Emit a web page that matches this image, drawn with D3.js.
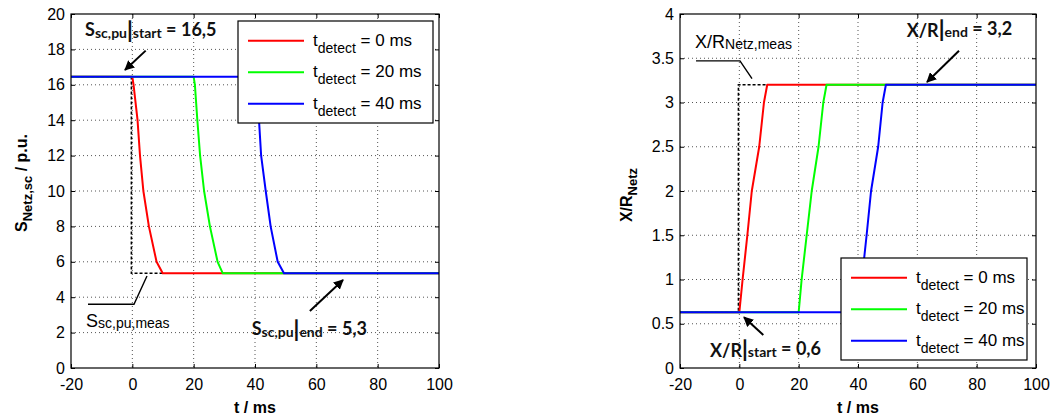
<!DOCTYPE html>
<html><head><meta charset="utf-8">
<script src="https://cdn.jsdelivr.net/npm/d3@7"></script>
<style>body{margin:0;background:#fff}svg{display:block}</style>
</head><body>
<svg id="c" width="1056" height="419"></svg>
<script>
// ---------- data ----------
const timeTicks = [-20, 0, 20, 40, 60, 80, 100];
const sTicks = [0, 2, 4, 6, 8, 10, 12, 14, 16, 18, 20];
const xrTicks = [0, 0.5, 1, 1.5, 2, 2.5, 3, 3.5, 4];
const seriesNames = ["t_detect = 0 ms", "t_detect = 20 ms", "t_detect = 40 ms"];
const legendValues = ["0 ms", "20 ms", "40 ms"];

// Left: short-circuit power (p.u.)
const sMeasT = [-20, -0.3, -0.3, 9.9];
const sMeasV = [16.45, 16.45, 5.35, 5.35];
const sRedT = [-20, 0, 0.4, 1.7, 2.5, 3.6, 5.4, 7.9, 9.9, 100];
const sRedV = [16.45, 16.45, 16, 14, 12, 10, 8, 6, 5.35, 5.35];
const sGreenT = [-20, 20, 20.4, 21.2, 22.1, 23.4, 25.3, 27.8, 29.5, 100];
const sGreenV = [16.45, 16.45, 16, 14, 12, 10, 8, 6, 5.35, 5.35];
const sBlueT = [-20, 40, 40.4, 41.3, 42.0, 43.5, 45.1, 47.4, 49.45, 100];
const sBlueV = [16.45, 16.45, 16, 14, 12, 10, 8, 6, 5.35, 5.35];

// Right: X/R ratio
const xrMeasT = [-20, -0.3, -0.3, 9.4];
const xrMeasV = [0.63, 0.63, 3.2, 3.2];
const xrRedT = [-20, 0, 1.1, 2.7, 4.2, 6.7, 8.3, 9.4, 100];
const xrRedV = [0.63, 0.63, 1, 1.5, 2, 2.5, 3, 3.2, 3.2];
const xrGreenT = [-20, 20, 21.0, 22.7, 24.4, 26.7, 28.3, 29.4, 100];
const xrGreenV = [0.63, 0.63, 1, 1.5, 2, 2.5, 3, 3.2, 3.2];
const xrBlueT = [-20, 40, 41.3, 42.9, 44.4, 46.8, 48.3, 49.4, 100];
const xrBlueV = [0.63, 0.63, 1, 1.5, 2, 2.5, 3, 3.2, 3.2];

const colors = ["#ff0000", "#00ff00", "#0000ff"];

// ---------- drawing ----------
const svg = d3.select("#c");
const FONT = "'Liberation Sans', Arial, Helvetica, sans-serif";
const AFONT = "Lato, 'Open Sans', sans-serif";

svg.append("defs").append("marker")
  .attr("id", "ah").attr("viewBox", "0 0 10 10").attr("refX", 9).attr("refY", 5)
  .attr("markerWidth", 5).attr("markerHeight", 5).attr("markerUnits", "strokeWidth")
  .attr("orient", "auto")
  .append("path").attr("d", "M0,0 L10,5 L0,10 Z").attr("fill", "#000");

function zip(t, v) { return t.map((d, i) => [d, v[i]]); }

function panel(cfg) {
  const x = d3.scaleLinear().domain([-20, 100]).range([cfg.x0, cfg.x1]);
  const y = d3.scaleLinear().domain(cfg.yDomain).range([cfg.y1, cfg.y0]);
  const g = svg.append("g");

  // grid
  g.selectAll(".gx").data(timeTicks.slice(1, -1)).join("line")
    .attr("x1", d => x(d)).attr("x2", d => x(d)).attr("y1", cfg.y0).attr("y2", cfg.y1)
    .attr("stroke", "#555").attr("stroke-width", 1).attr("stroke-dasharray", "1,3");
  g.selectAll(".gy").data(cfg.yTicks.slice(1, -1)).join("line")
    .attr("y1", d => y(d)).attr("y2", d => y(d)).attr("x1", cfg.x0).attr("x2", cfg.x1)
    .attr("stroke", "#555").attr("stroke-width", 1).attr("stroke-dasharray", "1,3");

  const line = d3.line().x(d => x(d[0])).y(d => y(d[1]));
  g.append("path").datum(zip(cfg.meas[0], cfg.meas[1])).attr("d", line)
    .attr("fill", "none").attr("stroke", "#000").attr("stroke-width", 1.6)
    .attr("stroke-dasharray", "3,2");
  cfg.series.forEach((s, i) => {
    g.append("path").datum(zip(s[0], s[1])).attr("d", line)
      .attr("fill", "none").attr("stroke", colors[i]).attr("stroke-width", 2)
      .attr("stroke-linejoin", "round");
  });

  const tl = 4;
  const axB = d3.axisBottom(x).tickValues(timeTicks).tickSizeInner(-tl).tickSizeOuter(0).tickPadding(8).tickFormat(d => String(d));
  const axT = d3.axisTop(x).tickValues(timeTicks).tickSizeInner(-tl).tickSizeOuter(0).tickFormat("");
  const axL = d3.axisLeft(y).tickValues(cfg.yTicks).tickSizeInner(-tl).tickSizeOuter(0).tickPadding(6).tickFormat(d => String(d));
  const axR = d3.axisRight(y).tickValues(cfg.yTicks).tickSizeInner(-tl).tickSizeOuter(0).tickFormat("");
  const gb = g.append("g").attr("transform", `translate(0,${cfg.y1})`).call(axB);
  g.append("g").attr("transform", `translate(0,${cfg.y0})`).call(axT);
  const gl = g.append("g").attr("transform", `translate(${cfg.x0},0)`).call(axL);
  g.append("g").attr("transform", `translate(${cfg.x1},0)`).call(axR);
  g.selectAll(".domain").remove();
  g.selectAll(".tick line").attr("stroke", "#000").attr("stroke-width", 1);
  gb.selectAll("text").attr("font-family", FONT).attr("font-size", 16).attr("fill", "#000").attr("dy", "0.9em");
  gl.selectAll("text").attr("font-family", FONT).attr("font-size", 16).attr("fill", "#000");
  g.append("rect").attr("x", cfg.x0).attr("y", cfg.y0).attr("width", cfg.x1 - cfg.x0)
    .attr("height", cfg.y1 - cfg.y0).attr("fill", "none").attr("stroke", "#000").attr("stroke-width", 1.2);

  g.append("text").attr("x", (cfg.x0 + cfg.x1) / 2).attr("y", 413).attr("text-anchor", "middle")
    .attr("font-family", FONT).attr("font-size", 16).attr("font-weight", "bold").text("t / ms");

  const L = cfg.legend;
  const lg = g.append("g");
  lg.append("rect").attr("x", L.x).attr("y", L.y).attr("width", L.w).attr("height", L.h)
    .attr("fill", "#fff").attr("stroke", "#000").attr("stroke-width", 1.2);
  legendValues.forEach((v, i) => {
    const ry = L.y + 19.7 + i * 31.5;
    lg.append("line").attr("x1", L.x + 10).attr("x2", L.x + 66).attr("y1", ry).attr("y2", ry)
      .attr("stroke", colors[i]).attr("stroke-width", 2);
    const t = lg.append("text").attr("x", L.x + 75).attr("y", ry + 5)
      .attr("font-family", FONT).attr("font-size", 17).attr("fill", "#000");
    t.append("tspan").text("t");
    t.append("tspan").attr("font-size", 14).attr("dy", 7).text("detect");
    t.append("tspan").attr("dy", -7).text(" = " + v);
  });
  return { x, y, g };
}

const P1 = panel({
  x0: 71, x1: 439, y0: 14, y1: 368, yDomain: [0, 20], yTicks: sTicks,
  meas: [sMeasT, sMeasV],
  series: [[sRedT, sRedV], [sGreenT, sGreenV], [sBlueT, sBlueV]],
  legend: { x: 238, y: 21, w: 195, h: 102 }
});
const P2 = panel({
  x0: 680, x1: 1036, y0: 14, y1: 368, yDomain: [0, 4], yTicks: xrTicks,
  meas: [xrMeasT, xrMeasV],
  series: [[xrRedT, xrRedV], [xrGreenT, xrGreenV], [xrBlueT, xrBlueV]],
  legend: { x: 841, y: 258, w: 186, h: 102 }
});

function ylab(xp, yp, main, sub, rest) {
  const t = svg.append("text").attr("transform", `translate(${xp},${yp}) rotate(-90)`)
    .attr("text-anchor", "middle").attr("font-family", FONT).attr("font-size", 16)
    .attr("font-weight", "bold");
  t.append("tspan").text(main);
  t.append("tspan").attr("font-size", 13).attr("dy", 5).text(sub);
  if (rest) t.append("tspan").attr("dy", -5).text(rest);
}
ylab(27, 183, "S", "Netz,sc", "  / p.u.");
ylab(632, 195, "X/R", "Netz", "");

function boldLabel(P, tx, vy, main, sub, rest) {
  const t = svg.append("text").attr("x", P.x(tx)).attr("y", P.y(vy))
    .attr("font-family", AFONT).attr("font-size", 18).attr("font-weight", "bold").attr("fill", "#111");
  t.append("tspan").text(main);
  t.append("tspan").attr("font-size", 14).attr("dy", 2).text(sub);
  t.append("tspan").attr("font-size", 22).attr("dy", 0).attr("font-weight", 900).text("|");
  t.append("tspan").attr("font-size", 14).text(rest[0]);
  t.append("tspan").attr("dy", -2).text(rest[1]);
}
function arrow(P, t0, v0, t1, v1) {
  svg.append("line").attr("x1", P.x(t0)).attr("y1", P.y(v0)).attr("x2", P.x(t1)).attr("y2", P.y(v1))
    .attr("stroke", "#000").attr("stroke-width", 2).attr("marker-end", "url(#ah)");
}
function measLabel(P, tx, vy, main, sub, pts) {
  const t = svg.append("text").attr("x", P.x(tx)).attr("y", P.y(vy))
    .attr("font-family", FONT).attr("font-size", 18).attr("fill", "#000");
  t.append("tspan").text(main);
  t.append("tspan").attr("font-size", 14).attr("dy", 1).text(sub);
  svg.append("path").datum(pts).attr("d", d3.line().x(d => P.x(d[0])).y(d => P.y(d[1])))
    .attr("fill", "none").attr("stroke", "#000").attr("stroke-width", 1.4);
}

boldLabel(P1, -15.4, 18.73, "S", "sc,pu", ["start", " = 16,5"]);
arrow(P1, 4.36, 17.93, -2.39, 16.84);
boldLabel(P1, 38.9, 1.86, "S", "sc,pu", ["end", " = 5,3"]);
arrow(P1, 57.9, 3.22, 68.7, 4.97);
measLabel(P1, -15.1, 2.33, "S", "sc,pu,meas", [[-14.46, 3.6], [0.54, 3.6], [4.78, 5.2]]);

boldLabel(P2, 56.4, 3.744, "X/R", "", ["end", " = 3,2"]);
arrow(P2, 74.05, 3.585, 63.26, 3.232);
boldLabel(P2, -9.9, 0.128, "X/R", "", ["start", " = 0,6"]);
arrow(P2, 8.08, 0.373, 1.57, 0.573);
measLabel(P2, -14.94, 3.616, "X/R", "Netz,meas", [[-14.6, 3.47], [0.22, 3.47], [4.27, 3.27]]);
</script>
</body></html>
